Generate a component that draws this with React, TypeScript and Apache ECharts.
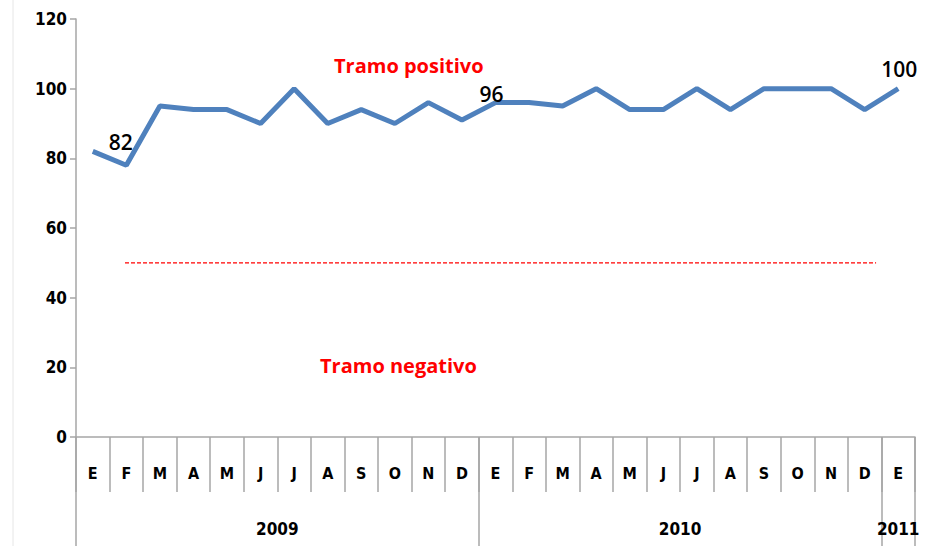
import React, { useEffect, useRef } from "react";
import * as echarts from "echarts";

const months = ["E","F","M","A","M","J","J","A","S","O","N","D","E","F","M","A","M","J","J","A","S","O","N","D","E"];
const values = [82,78,95,94,94,90,100,90,94,90,96,91,96,96,95,100,94,94,100,94,100,100,100,94,100];
const labeledIndex = [0, 12, 24];
const labelOffsets = [[28, 6], [-4, 7], [1, -4]];
const years = ["2009", "2010", "2011"];
const yearCenters = [6, 18, 24.5];
const yearBounds = [0, 12, 24, 25];
const thresholdValue = 50;
const thresholdRange = [1.46, 23.84];
const yTicks = { min: 0, max: 120, interval: 20 };

const axisGrey = "#a6a6a6";
const boldFont = "'DejaVu Sans Condensed', 'DejaVu Sans', sans-serif";
const labelFont = "'Open Sans', 'Noto Sans', sans-serif";

export default function App() {
  const ref = useRef<HTMLDivElement>(null);
  useEffect(() => {
    if (!ref.current) return;
    const chart = echarts.init(ref.current, null, { renderer: "svg" });
    const seriesData = values.map((v, i) => {
      const k = labeledIndex.indexOf(i);
      if (k < 0) return v;
      return {
        value: v,
        label: {
          show: true,
          position: "top",
          offset: labelOffsets[k],
          color: "#000",
          fontSize: 21,
          fontFamily: labelFont,
          fontWeight: 600,
          formatter: "{c}",
        },
      };
    });
    chart.setOption({
      animation: false,
      backgroundColor: "#fff",
      grid: { left: 76, right: 20, top: 19, bottom: 109 },
      xAxis: [
        {
          type: "category",
          data: months,
          boundaryGap: true,
          position: "bottom",
          axisLine: { show: true, lineStyle: { color: axisGrey, width: 1.5 } },
          axisTick: { show: true, length: 55, interval: 0, lineStyle: { color: axisGrey, width: 1.5 } },
          axisLabel: {
            interval: 0,
            margin: 28,
            color: "#000",
            fontSize: 16,
            fontWeight: "bold",
            fontFamily: boldFont,
          },
          splitLine: { show: false },
        },
        {
          type: "value",
          min: 0,
          max: months.length,
          position: "bottom",
          axisLine: { show: false },
          axisTick: {
            show: true,
            length: 109,
            customValues: yearBounds,
            lineStyle: { color: axisGrey, width: 1.5 },
          },
          axisLabel: {
            show: true,
            customValues: yearCenters,
            margin: 83,
            color: "#000",
            fontSize: 17,
            fontWeight: "bold",
            fontFamily: boldFont,
            formatter: (v: number) => {
              const k = yearCenters.indexOf(v);
              return k >= 0 ? years[k] : "";
            },
          },
          splitLine: { show: false },
        },
      ],
      yAxis: {
        type: "value",
        min: yTicks.min,
        max: yTicks.max,
        interval: yTicks.interval,
        axisLine: { show: true, lineStyle: { color: axisGrey, width: 1.5 } },
        axisTick: { show: true, length: 6, lineStyle: { color: axisGrey, width: 1.5 } },
        axisLabel: {
          margin: 9,
          color: "#000",
          fontSize: 17,
          fontWeight: "bold",
          fontFamily: boldFont,
        },
        splitLine: { show: false },
      },
      series: [
        {
          type: "line",
          xAxisIndex: 0,
          data: seriesData,
          symbol: "circle",
          symbolSize: 0,
          showSymbol: true,
          lineStyle: { color: "#4f81bd", width: 5 },
          itemStyle: { color: "#4f81bd" },
        },
        {
          type: "line",
          xAxisIndex: 1,
          data: [
            [thresholdRange[0], thresholdValue],
            [thresholdRange[1], thresholdValue],
          ],
          symbol: "none",
          lineStyle: { color: "#ff0000", width: 1.2, type: [4, 2] },
        },
      ],
      graphic: [
        {
          type: "line",
          shape: { x1: 13, y1: 0, x2: 13, y2: 546 },
          style: { stroke: "#e6e6e6", lineWidth: 1 },
        },
        {
          type: "text",
          left: 334,
          top: 55,
          style: {
            text: "Tramo positivo",
            fill: "#ff0000",
            font: `bold 20px ${labelFont}`,
          },
        },
        {
          type: "text",
          left: 320,
          top: 355,
          style: {
            text: "Tramo negativo",
            fill: "#ff0000",
            font: `bold 20px ${labelFont}`,
          },
        },
      ],
    });
    return () => chart.dispose();
  }, []);
  return <div ref={ref} style={{ width: 935, height: 546, position: "fixed", left: 0, top: 0 }} />;
}
